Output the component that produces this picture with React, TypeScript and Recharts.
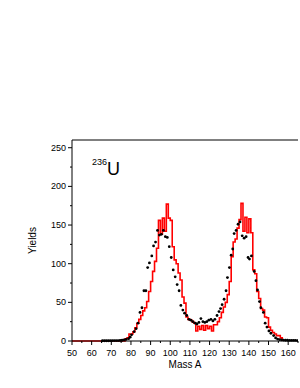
import React from 'react';
import { ComposedChart, Line, Scatter, XAxis, YAxis, Label } from 'recharts';

// red histogram: bin left edge (mass) -> yield
const redMass = [
  50,
  77, 78, 79, 80, 81, 82, 83, 84, 85, 86,
  87, 88, 89, 90, 91, 92, 93, 94, 95, 96,
  97, 98, 99, 100, 101, 102, 103, 104, 105, 106,
  107, 108, 109, 110, 111, 112, 113, 114, 115, 116,
  117, 118, 119, 120, 121, 122, 123, 124, 125, 126,
  127, 128, 129, 130, 131, 132, 133, 134, 135, 136,
  137, 138, 139, 140, 141, 142, 143, 144, 145, 146,
  147, 148, 149, 150, 151, 152, 153, 154, 155, 156,
  157,
];
const redYield = [
  0,
  3, 4, 9, 9, 12, 17, 23, 28, 33, 39,
  43, 51, 64, 77, 90, 103, 120, 156, 138, 159,
  142, 177, 159, 156, 122, 105, 100, 88, 79, 57,
  49, 31, 28, 27, 25, 23, 13, 19, 15, 20,
  14, 20, 16, 19, 13, 21, 21, 25, 30, 37,
  44, 50, 60, 77, 109, 128, 132, 146, 157, 178,
  142, 160, 140, 158, 140, 92, 87, 64, 55, 42,
  40, 31, 30, 18, 14, 11, 9, 7, 7, 4,
  0,
];

// black data points
const dotMass = [
  65.5, 66.5, 67.5, 68.5, 69.5, 70.5, 71.5, 72.5, 73.5, 74.5, 75.5, 76.5, 77.5,
  78.8, 79.6, 80.3, 81.6, 82.6, 83.6, 84.6, 85.6, 86.6, 87.6, 88.5, 89.4,
  90.6, 91.5, 92.5, 93.5, 94.5, 95.5, 96.5, 97.5, 98.5, 99.5, 100.5, 101.5,
  102.5, 103.5, 104.5, 105.4, 106.4, 107.3, 108.4, 109.5, 110.5, 111.5, 112.7,
  113.6, 114.6, 115.6, 116.6, 117.6, 118.6, 119.6, 120.7, 121.7, 122.7, 123.8,
  124.8, 125.6, 126.4, 127.4, 128.4, 129.1, 130.1, 131, 131.8, 132.5, 133.5,
  134.5, 135.5, 136.6, 137.6, 138.6, 139.6, 140.3, 141.3, 142.7, 143.6, 144.4,
  145.4, 146.1, 147.4, 148.3, 149.2, 150.2, 151.2, 152.6, 153.6, 154.6, 155.6,
  156.6, 157.6, 158.6, 159.6, 160.6, 161.6, 162.6, 163.6, 164.6,
];
const dotYield = [
  0.3, 0.3, 0.3, 0.3, 0.4, 0.4, 0.5, 0.5, 0.6, 0.8, 1, 1.5, 2,
  3, 5, 8, 12, 16, 23, 37, 43, 65, 65, 95, 101,
  110, 123, 128, 143, 137, 138, 143, 135, 134, 122, 108, 92,
  83, 73, 65, 46, 40, 36, 33, 28, 27, 25, 23,
  22, 24, 29, 25, 24, 25, 27, 28, 26, 28, 33,
  38, 42, 47, 54, 65, 82, 95, 111, 119, 139, 143,
  151, 154, 136, 133, 135, 108, 106, 110, 90, 78, 66,
  51, 43, 37, 23, 18, 13, 10, 7, 4, 2.5, 1.8,
  1.5, 1.2, 1, 1, 0.8, 0.8, 0.7, 0.7, 0.6,
];

const xTicks = [50, 55, 60, 65, 70, 75, 80, 85, 90, 95, 100, 105, 110, 115, 120, 125, 130, 135, 140, 145, 150, 155, 160, 165];
const yTicks = [0, 25, 50, 75, 100, 125, 150, 175, 200, 225, 250];

const redData = redMass.map((m, i) => ({ mass: m, y: redYield[i] }));
const dotData = dotMass.map((m, i) => ({ mass: m, y: dotYield[i] }));

const FONT = '"Liberation Sans", Arial, sans-serif';

const BottomTick = ({ x, y, payload }: any) => {
  const major = payload.value % 10 === 0;
  return (
    <g>
      <line x1={x} y1={y} x2={x} y2={y + (major ? 4 : 2)} stroke="#000" strokeWidth={1} />
      {major && (
        <text x={x} y={y + 15} textAnchor="middle" fontSize={9} fontFamily={FONT} fill="#000">
          {payload.value}
        </text>
      )}
    </g>
  );
};

const TopTick = ({ x, y, payload }: any) => {
  const major = payload.value % 10 === 0;
  return <line x1={x} y1={y} x2={x} y2={y - (major ? 4 : 2)} stroke="#000" strokeWidth={1} />;
};

const LeftTick = ({ x, y, payload }: any) => {
  const major = payload.value % 50 === 0;
  return (
    <g>
      <line x1={x} y1={y} x2={x - (major ? 4 : 2)} y2={y} stroke="#000" strokeWidth={1} />
      {major && (
        <text x={x - 6} y={y + 3} textAnchor="end" fontSize={9} fontFamily={FONT} fill="#000">
          {payload.value}
        </text>
      )}
    </g>
  );
};

export default function App() {
  return (
    <div style={{ position: 'absolute', left: 0, top: 0, width: 300, height: 388, background: '#fff', fontFamily: FONT }}>
      <ComposedChart width={300} height={388} margin={{ top: 130, right: 2, bottom: 0, left: -8 }}>
        <XAxis
          dataKey="mass"
          type="number"
          domain={[50, 165]}
          ticks={xTicks}
          allowDataOverflow
          height={47}
          tickSize={0}
          tickMargin={0}
          tickLine={false}
          axisLine={{ stroke: '#000' }}
          tick={<BottomTick />}
          interval={0}
        >
          <Label value="Mass A" position="insideBottom" offset={20} fontSize={10} fontFamily={FONT} fill="#000" />
        </XAxis>
        <XAxis
          xAxisId="top"
          orientation="top"
          type="number"
          domain={[50, 165]}
          ticks={xTicks}
          height={10}
          tickSize={0}
          tickMargin={0}
          tickLine={false}
          axisLine={{ stroke: '#000' }}
          tick={<TopTick />}
          interval={0}
        />
        <YAxis
          type="number"
          domain={[0, 260]}
          ticks={yTicks}
          width={80}
          tickSize={0}
          tickMargin={0}
          tickLine={false}
          axisLine={{ stroke: '#000' }}
          tick={<LeftTick />}
          interval={0}
        >
          <Label value="Yields" angle={-90} position="center" fontSize={10} fontFamily={FONT} fill="#000" />
        </YAxis>
        <Line
          data={redData}
          dataKey="y"
          type="stepAfter"
          stroke="#ff0000"
          strokeWidth={1.6}
          dot={false}
          activeDot={false}
          isAnimationActive={false}
        />
        <Scatter
          data={dotData}
          dataKey="y"
          fill="#000"
          shape={(p: any) => <circle cx={p.cx} cy={p.cy} r={1.4} fill="#000" />}
          isAnimationActive={false}
        />
      </ComposedChart>
      <div style={{ position: 'absolute', left: 92, top: 160, fontSize: 18, lineHeight: '18px', color: '#000', whiteSpace: 'nowrap' }}>
        <span style={{ fontSize: 9, lineHeight: '9px', verticalAlign: 'top', position: 'relative', top: -2 }}>236</span>U
      </div>
    </div>
  );
}
